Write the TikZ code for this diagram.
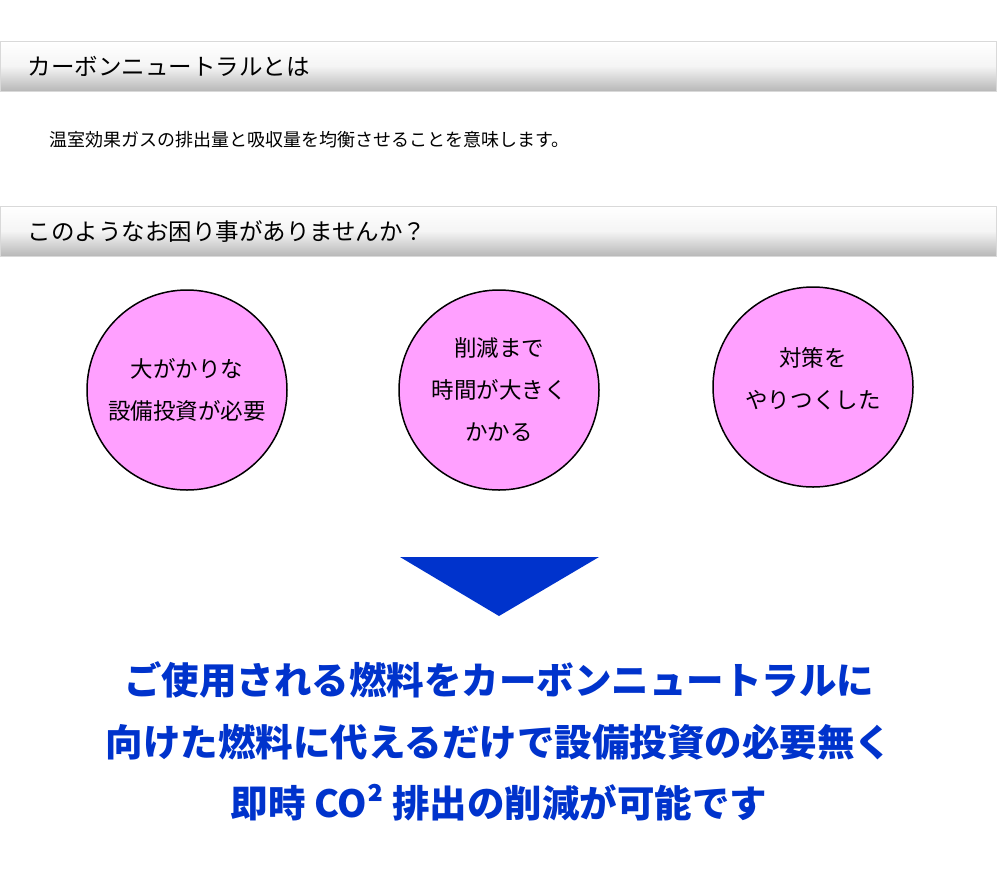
\documentclass[tikz,border=0pt]{standalone}
\usepackage{fontspec}
\setmainfont{Noto Sans CJK JP}
\definecolor{pink}{HTML}{FFA0FF}
\definecolor{blu}{HTML}{0033CC}
\tikzset{bar/.style={draw=black!15,top color=white,bottom color=black!28,middle color=black!4},
 circ/.style={circle,draw=black,line width=1.5pt,fill=pink,minimum size=200pt,align=center,font=\fontsize{22.5}{42}\selectfont},
 big/.style={text=blu,font=\fontsize{37.5}{40}\selectfont\bfseries}}
\begin{document}
\begin{tikzpicture}[x=1pt,y=-1pt]
\useasboundingbox (0,0) rectangle (1000,887);
\fill[white] (0,0) rectangle (1000,887);
\shade[bar] (0,41) rectangle (996,91);
\node[anchor=west,font=\fontsize{23.5}{26}\selectfont] (h1) at (24,66) {カーボンニュートラルとは};
\node[anchor=west,font=\fontsize{18}{20}\selectfont] (t1) at (46,140) {温室効果ガスの排出量と吸収量を均衡させることを意味します。};
\shade[bar] (0,206) rectangle (996,256);
\node[anchor=west,font=\fontsize{23.5}{26}\selectfont] (h2) at (24,232) {このようなお困り事がありませんか？};
\node[circ] (c1) at (187,390) {大がかりな\\設備投資が必要};
\node[circ] (c2) at (499,390) {削減まで\\時間が大きく\\かかる};
\node[circ] (c3) at (813,387) {};
\node[align=center,font=\fontsize{22.5}{42}\selectfont] (c3t) at (813,379) {対策を\\やりつくした};
\fill[blu] (400,557) -- (599,557) -- (499,616) -- cycle;
\node[big] (l1) at (499,680) {ご使用される燃料をカーボンニュートラルに};
\node[big] (l2) at (499,742) {向けた燃料に代えるだけで設備投資の必要無く};
\node[big] (l3) at (499,803) {即時 CO² 排出の削減が可能です};
\end{tikzpicture}
\end{document}
